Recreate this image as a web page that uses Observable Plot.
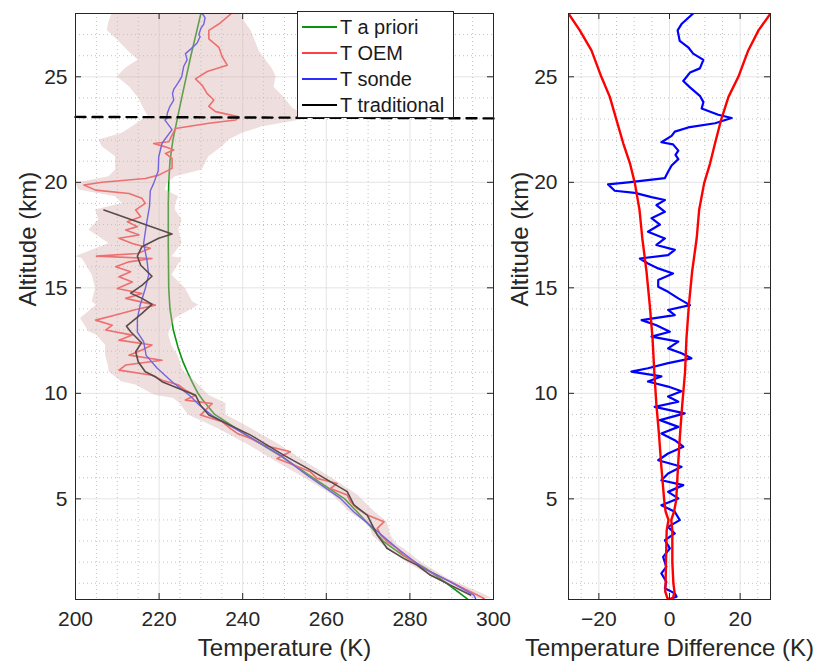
<!DOCTYPE html>
<html>
<head>
<meta charset="utf-8">
<script src="https://cdn.jsdelivr.net/npm/d3@7"></script>
<script src="https://cdn.jsdelivr.net/npm/@observablehq/plot@0.6"></script>
<style>
  body { margin: 0; background: #fff; }
  #wrap { position: relative; width: 826px; height: 670px; overflow: hidden; background: #fff;
          font-family: "Liberation Sans", Arial, Helvetica, sans-serif; color: #262626; }
  #left, #right { position: absolute; top: 0; }
  #left { left: 0; }
  #right { left: 500px; }
  #legend { position: absolute; left: 297px; top: 11px; width: 155px; height: 105px;
            border: 1px solid #262626; background: #fff; }
  .row { position: absolute; left: 0; height: 26px; width: 155px; }
  .sw { position: absolute; left: 4px; top: 12px; width: 35px; height: 2px; }
  .lab { position: absolute; left: 42px; top: 0; line-height: 26px; font-size: 20px; white-space: nowrap; color: #1a1a1a; }
</style>
</head>
<body>
<div id="wrap">
  <div id="left"></div>
  <div id="right"></div>
  <div id="legend"></div>
</div>
<script>
// ---------------- data ----------------
const tempTicks = [200, 220, 240, 260, 280, 300];
const altTicks = [5, 10, 15, 20, 25];
const diffTicks = [-20, 0, 20];
const legendLabels = ["T a priori", "T OEM", "T sonde", "T traditional"];
const xLabelLeft = "Temperature (K)";
const xLabelRight = "Temperature Difference (K)";
const yLabel = "Altitude (km)";

// T a priori
const aprioriAlt = [28.0, 27.0, 26.0, 25.0, 24.0, 23.05, 22.0, 21.0, 20.0, 19.0, 17.0, 15.0, 14.0, 13.0, 12.2, 11.5, 11.0, 10.5, 10.0, 9.7, 9.0, 8.0, 7.0, 6.0, 5.0, 4.0, 3.0, 2.3, 1.7, 1.0, 0.25];
const aprioriT   = [230.0, 228.8, 227.6, 226.5, 225.4, 224.4, 223.3, 222.6, 222.3, 222.2, 222.2, 222.3, 222.6, 223.4, 224.5, 225.7, 226.8, 228.0, 229.3, 230.4, 233.3, 241.0, 249.3, 256.8, 264.4, 269.2, 273.6, 278.5, 283.8, 288.8, 293.8];

// T sonde
const sondeAlt = [28.0, 27.8, 27.5, 27.3, 27.0, 26.9, 26.6, 26.3, 26.1, 25.8, 25.5, 25.0, 24.7, 24.4, 24.2, 23.9, 23.6, 23.3, 23.03, 22.95, 22.5, 21.85, 21.2, 20.55, 19.95, 19.6, 18.85, 18.05, 17.1, 16.3, 15.6, 14.97, 14.2, 13.55, 12.9, 12.45, 11.8, 11.2, 10.55, 9.9, 9.45, 8.95, 8.0, 7.07, 6.12, 5.02, 4.38, 3.6, 2.65, 1.7, 1.07, 0.44, 0.28];
const sondeT   = [230.3, 231.0, 230.7, 230.0, 229.5, 229.8, 229.1, 227.5, 226.3, 226.7, 225.9, 225.4, 224.5, 223.5, 223.2, 223.5, 222.6, 222.0, 221.8, 221.4, 223.1, 220.7, 219.9, 219.8, 218.7, 217.9, 217.7, 217.0, 216.3, 217.1, 217.5, 216.7, 215.5, 214.8, 214.8, 216.3, 216.9, 219.5, 223.1, 227.3, 229.6, 232.7, 241.1, 249.0, 255.4, 263.4, 266.6, 271.4, 277.0, 283.3, 289.7, 295.3, 295.7];

// T OEM
const oemAlt = [28.0, 27.5, 27.2, 26.8, 26.4, 25.95, 25.55, 25.25, 24.9, 24.6, 24.2, 23.9, 23.6, 23.35, 23.1, 22.95, 22.8, 22.55, 22.24, 21.92, 21.84, 21.68, 21.53, 21.37, 21.13, 20.66, 20.34, 20.18, 20.0, 19.87, 19.63, 19.47, 19.24, 19.0, 18.69, 18.37, 18.13, 17.9, 17.74, 17.5, 17.35, 17.1, 16.87, 16.63, 16.5, 16.39, 16.23, 16.0, 15.76, 15.52, 15.28, 14.97, 14.73, 14.5, 14.18, 13.95, 13.71, 13.47, 13.23, 13.0, 12.76, 12.52, 12.29, 12.05, 11.81, 11.57, 11.34, 11.1, 10.86, 10.62, 10.39, 10.15, 9.91, 9.68, 9.52, 9.44, 8.97, 8.65, 8.33, 8.1, 7.86, 7.54, 7.23, 6.91, 6.6, 6.28, 5.97, 5.73, 5.49, 5.18, 4.86, 4.55, 4.23, 3.91, 3.6, 3.28, 2.96, 2.65, 2.33, 2.02, 1.7, 1.39, 1.07, 0.75, 0.44, 0.28];
const oemT   = [237.3, 234.3, 231.9, 231.9, 234.3, 235.1, 236.3, 231.5, 228.7, 230.3, 231.5, 233.1, 231.9, 233.5, 239.1, 238.3, 231.9, 223.9, 223.1, 222.3, 218.7, 221.5, 223.5, 221.5, 223.1, 223.1, 219.9, 216.7, 206.4, 202.0, 204.8, 212.8, 215.9, 216.7, 214.4, 215.6, 212.4, 214.8, 212.0, 215.2, 210.4, 213.6, 217.9, 214.8, 205.0, 218.3, 212.8, 209.6, 213.2, 210.4, 213.6, 210.0, 215.9, 212.0, 219.1, 214.0, 209.6, 204.8, 208.8, 207.2, 213.6, 210.4, 218.3, 215.9, 212.8, 220.7, 212.0, 210.4, 218.3, 220.7, 224.7, 226.3, 228.7, 226.3, 232.7, 232.3, 229.9, 235.1, 237.1, 238.7, 241.9, 245.1, 251.4, 248.2, 252.2, 256.2, 257.8, 262.6, 261.0, 265.0, 265.8, 267.4, 269.8, 273.8, 272.2, 273.0, 274.6, 277.0, 278.5, 280.9, 283.3, 286.5, 289.7, 292.9, 296.1, 297.7];

// T traditional
const tradAlt = [18.69, 17.55, 17.35, 16.95, 16.5, 16.07, 15.55, 15.12, 14.75, 14.5, 14.22, 13.79, 13.18, 12.92, 12.4, 11.97, 11.5, 11.02, 10.8, 10.55, 10.23, 9.91, 9.44, 8.97, 8.02, 7.07, 6.28, 5.34, 4.71, 4.23, 3.91, 3.28, 2.65, 2.18, 1.86, 1.39, 0.91, 0.44];
const tradT   = [206.8, 223.1, 219.9, 215.9, 214.8, 215.6, 218.3, 215.9, 213.2, 215.9, 218.3, 215.9, 212.2, 213.2, 215.8, 214.4, 215.0, 216.7, 219.0, 220.7, 224.7, 228.7, 229.9, 231.9, 241.9, 249.8, 257.0, 265.0, 266.6, 269.8, 270.6, 272.2, 274.6, 278.5, 281.7, 284.9, 289.7, 294.5];

// OEM uncertainty band (left and right edges)
const bandAlt = [28.0, 27.6, 27.2, 26.7, 26.2, 25.8, 25.4, 25.0, 24.5, 24.0, 23.5, 23.1, 22.95, 22.63, 22.32, 22.0, 21.68, 21.21, 20.58, 20.26, 19.95, 19.63, 19.32, 19.0, 18.69, 18.21, 17.74, 17.1, 16.47, 16.39, 15.6, 14.97, 14.34, 14.18, 13.55, 12.92, 12.76, 12.28, 11.97, 11.81, 11.18, 11.02, 10.55, 10.39, 9.91, 9.76, 9.52, 8.97, 8.33, 7.54, 6.76, 5.97, 5.18, 4.39, 3.91, 3.6, 3.28, 2.81, 2.65, 2.02, 1.23, 0.44, 0.28];
const bandLo  = [208.8, 208.0, 207.6, 210.3, 212.7, 215.0, 212.0, 210.0, 213.0, 215.1, 216.3, 217.5, 216.0, 213.6, 211.2, 205.6, 206.4, 209.6, 209.6, 208.0, 200.0, 200.8, 209.6, 211.2, 204.8, 205.6, 203.2, 208.0, 200.0, 201.6, 204.0, 204.8, 204.0, 205.0, 201.2, 203.2, 205.0, 207.2, 207.2, 207.2, 208.0, 208.0, 211.0, 214.4, 219.0, 223.5, 225.0, 227.0, 234.0, 241.5, 248.0, 255.0, 261.5, 265.5, 269.0, 270.6, 271.0, 273.5, 274.5, 279.0, 286.0, 293.7, 295.0];
const bandHi  = [239.5, 240.5, 242.0, 243.0, 244.0, 245.5, 247.0, 248.0, 247.5, 250.0, 252.0, 256.0, 254.0, 244.7, 239.9, 236.7, 235.1, 231.9, 230.3, 223.9, 222.0, 221.5, 224.7, 224.0, 223.9, 225.5, 224.7, 225.5, 223.1, 225.5, 223.1, 226.3, 228.0, 229.5, 223.9, 222.5, 222.3, 223.0, 223.9, 224.5, 225.5, 226.0, 228.7, 229.5, 231.9, 233.5, 236.0, 236.0, 242.0, 249.0, 255.0, 261.5, 267.5, 271.5, 274.5, 275.0, 275.4, 277.0, 278.5, 282.5, 289.0, 298.1, 299.5];

// cut-off altitude (dashed line)
const cutoffT = [200, 300];
const cutoffAlt = [23.1, 23.03];

// right panel: OEM - sonde difference
const diffAlt = [28.0, 27.5, 27.2, 26.7, 26.4, 26.1, 25.8, 25.4, 25.2, 24.8, 24.5, 24.1, 23.8, 23.5, 23.2, 23.05, 22.8, 22.6, 22.4, 22.2, 21.9, 21.8, 21.5, 21.3, 21.1, 20.8, 20.5, 20.2, 20.0, 19.9, 19.6, 19.5, 19.3, 19.16, 18.92, 18.6, 18.3, 18.0, 17.66, 17.34, 17.03, 16.8, 16.55, 16.39, 16.15, 15.92, 15.68, 15.37, 15.05, 14.81, 14.5, 14.18, 13.95, 13.71, 13.47, 13.23, 12.92, 12.69, 12.45, 12.13, 11.9, 11.66, 11.43, 11.19, 11.03, 10.8, 10.56, 10.32, 10.1, 9.85, 9.6, 9.36, 9.05, 8.73, 8.41, 8.1, 7.78, 7.47, 7.15, 6.83, 6.52, 6.2, 5.88, 5.65, 5.33, 5.02, 4.7, 4.39, 3.99, 3.67, 3.36, 3.04, 2.65, 2.25, 1.78, 1.47, 1.07, 0.76, 0.52, 0.36, 0.23];
const diffVal = [6.7, 3.4, 2.3, 2.9, 5.3, 6.7, 9.6, 8.6, 5.8, 3.9, 5.8, 8.6, 9.6, 9.1, 13.8, 17.6, 12.9, 5.3, 1.5, 0.6, -2.3, 1.0, 2.5, 1.7, 2.5, 0.6, -0.4, -1.3, -11.7, -17.4, -15.5, -9.8, -5.1, -1.3, -3.7, -1.3, -5.1, -2.7, -6.1, -1.3, -3.7, 1.5, -0.4, -8.4, -6.1, -3.2, 1.0, -3.2, -3.2, -0.4, 2.5, 5.8, -0.4, 1.5, -7.9, -3.7, 0.1, -5.1, 2.5, -0.4, 3.4, 6.2, -0.4, -6.1, -10.8, -2.3, -6.1, -0.4, 3.4, -0.4, 2.5, -4.2, 4.3, -2.7, 2.5, -2.3, 1.5, 3.9, -0.4, -3.2, 3.4, -0.4, -2.3, 3.9, -0.4, 2.5, -2.3, 1.5, 2.9, -0.4, 1.5, -1.3, 0.1, -1.8, -0.9, -2.3, -0.9, -1.3, 1.5, 2.0, -0.4];

// right panel: error envelope
const errAlt = [28.0, 27.2, 26.25, 25.0, 24.05, 22.95, 21.85, 20.9, 19.95, 18.7, 17.35, 15.76, 14.2, 12.6, 11.0, 9.44, 8.1, 6.5, 4.94, 4.4, 4.0, 3.5, 2.0, 1.0, 0.6, 0.3, 0.23];
const errLo  = [-28.6, -25.4, -22.1, -19.3, -16.9, -15.0, -13.1, -11.2, -9.8, -8.5, -7.7, -6.5, -5.6, -4.8, -4.3, -3.7, -3.0, -2.3, -1.5, -1.1, -0.3, -0.8, -1.0, -1.1, -1.2, -0.6, 0.0];
const errHi  = [28.6, 25.2, 22.3, 19.5, 16.7, 14.6, 12.9, 11.5, 9.8, 8.4, 7.7, 6.4, 5.5, 4.8, 4.4, 3.6, 3.0, 2.4, 1.9, 1.3, 0.5, 0.8, 0.8, 1.1, 1.4, 1.0, 0.3];

// ---------------- styles ----------------
const cGreen = "#0a940a", cRed = "#ff4040", cBlue = "#2d2dff", cBlack = "#000000";
const seriesColors = [cGreen, cRed, cBlue, cBlack];
const txt = "#262626";
const font = '"Liberation Sans", Arial, Helvetica, sans-serif';

const H = 670, mT = 13, mB = 71;
const plotH = H - mT - mB;
const altDomain = [0.23, 28];
const tickPx = 6;

function idx(a) { return d3.range(a.length); }

function gridMarks(xMajor, xMinor, yMajor, yMinor) {
  return [
    Plot.ruleX(xMinor, {stroke: "#b4b4b4", strokeWidth: 0.8, strokeDasharray: "1,3"}),
    Plot.ruleY(yMinor, {stroke: "#b4b4b4", strokeWidth: 0.8, strokeDasharray: "1,3"}),
    Plot.ruleX(xMajor, {stroke: "#dddddd", strokeWidth: 0.8}),
    Plot.ruleY(yMajor, {stroke: "#dddddd", strokeWidth: 0.8})
  ];
}

function tickMarks(xTicks, xDom, yTicks, yDom, plotW) {
  const dy = tickPx * (yDom[1] - yDom[0]) / plotH;
  const dx = tickPx * (xDom[1] - xDom[0]) / plotW;
  const s = {stroke: txt, strokeWidth: 1};
  return [
    Plot.ruleX(xTicks, {y1: yDom[0], y2: yDom[0] + dy, ...s}),
    Plot.ruleX(xTicks, {y1: yDom[1] - dy, y2: yDom[1], ...s}),
    Plot.ruleY(yTicks, {x1: xDom[0], x2: xDom[0] + dx, ...s}),
    Plot.ruleY(yTicks, {x1: xDom[1] - dx, x2: xDom[1], ...s}),
    Plot.frame({stroke: txt, strokeWidth: 1})
  ];
}

// ---------------- left panel ----------------
const tDom = [200, 300];
const W1 = 500, mL1 = 75, mR1 = 7;
const tMinor = d3.range(205, 300, 5).filter(v => v % 20 !== 0);
const aMinor = d3.range(1, 28.01, 1).filter(v => v % 5 !== 0);

const leftPlot = Plot.plot({
  width: W1, height: H,
  marginLeft: mL1, marginRight: mR1, marginTop: mT, marginBottom: mB,
  x: {domain: tDom},
  y: {domain: altDomain},
  style: {fontFamily: font, fontSize: "21px", color: txt, background: "transparent", overflow: "visible"},
  marks: [
    ...gridMarks(tempTicks.slice(1, -1), tMinor, altTicks, aMinor),
    Plot.line(idx(aprioriAlt), {x: i => aprioriT[i], y: i => aprioriAlt[i], stroke: cGreen, strokeWidth: 1.6, clip: true}),
    Plot.line(idx(oemAlt), {x: i => oemT[i], y: i => oemAlt[i], stroke: cRed, strokeWidth: 1.6, clip: true}),
    Plot.line(idx(sondeAlt), {x: i => sondeT[i], y: i => sondeAlt[i], stroke: cBlue, strokeWidth: 1.4, clip: true}),
    Plot.line(idx(tradAlt), {x: i => tradT[i], y: i => tradAlt[i], stroke: cBlack, strokeWidth: 1.6, clip: true}),
    Plot.areaX(idx(bandAlt), {y: i => bandAlt[i], x1: i => bandLo[i], x2: i => bandHi[i], fill: "#d6b0b0", fillOpacity: 0.42, clip: true}),
    Plot.line(idx(cutoffT), {x: i => cutoffT[i], y: i => cutoffAlt[i], stroke: "#000", strokeWidth: 2.4, strokeDasharray: "10,7"}),
    ...tickMarks(tempTicks, tDom, altTicks, altDomain, W1 - mL1 - mR1),
    Plot.axisX(tempTicks, {anchor: "bottom", tickSize: 0, tickPadding: 12, label: null, fontSize: 21}),
    Plot.axisY(altTicks, {anchor: "left", tickSize: 0, tickPadding: 8, label: null, fontSize: 21}),
    Plot.text([xLabelLeft], {text: d => d, frameAnchor: "bottom", dy: 56, fontSize: 24, fill: txt}),
    Plot.text([yLabel], {text: d => d, frameAnchor: "left", dx: -47, rotate: -90, fontSize: 24, fill: txt})
  ]
});
document.getElementById("left").appendChild(leftPlot);

// ---------------- right panel ----------------
const dDom = [-28.6, 28.6];
const W2 = 326, mL2 = 68, mR2 = 56;
const dMinor = [-25, -15, -10, -5, 5, 10, 15, 25];

const rightPlot = Plot.plot({
  width: W2, height: H,
  marginLeft: mL2, marginRight: mR2, marginTop: mT, marginBottom: mB,
  x: {domain: dDom},
  y: {domain: altDomain},
  style: {fontFamily: font, fontSize: "21px", color: txt, background: "transparent", overflow: "visible"},
  marks: [
    ...gridMarks(diffTicks, dMinor, altTicks, aMinor),
    Plot.line(idx(diffAlt), {x: i => diffVal[i], y: i => diffAlt[i], stroke: "#0000ff", strokeWidth: 2.2, clip: true}),
    Plot.line(idx(errAlt), {x: i => errLo[i], y: i => errAlt[i], stroke: "#ff0000", strokeWidth: 2.4, clip: true}),
    Plot.line(idx(errAlt), {x: i => errHi[i], y: i => errAlt[i], stroke: "#ff0000", strokeWidth: 2.4, clip: true}),
    ...tickMarks(diffTicks, dDom, altTicks, altDomain, W2 - mL2 - mR2),
    Plot.axisX(diffTicks, {anchor: "bottom", tickSize: 0, tickPadding: 12, label: null, fontSize: 21}),
    Plot.axisY(altTicks, {anchor: "left", tickSize: 0, tickPadding: 11, label: null, fontSize: 21}),
    Plot.text([xLabelRight], {text: d => d, frameAnchor: "bottom", dy: 56, fontSize: 24, fill: txt}),
    Plot.text([yLabel], {text: d => d, frameAnchor: "left", dx: -48, rotate: -90, fontSize: 24, fill: txt})
  ]
});
document.getElementById("right").appendChild(rightPlot);

// ---------------- legend ----------------
const legend = document.getElementById("legend");
legendLabels.forEach((lab, k) => {
  const row = document.createElement("div");
  row.className = "row";
  row.style.top = (2 + k * 26) + "px";
  const sw = document.createElement("span");
  sw.className = "sw";
  sw.style.background = seriesColors[k];
  const t = document.createElement("span");
  t.className = "lab";
  t.textContent = lab;
  row.appendChild(sw);
  row.appendChild(t);
  legend.appendChild(row);
});
</script>
</body>
</html>
